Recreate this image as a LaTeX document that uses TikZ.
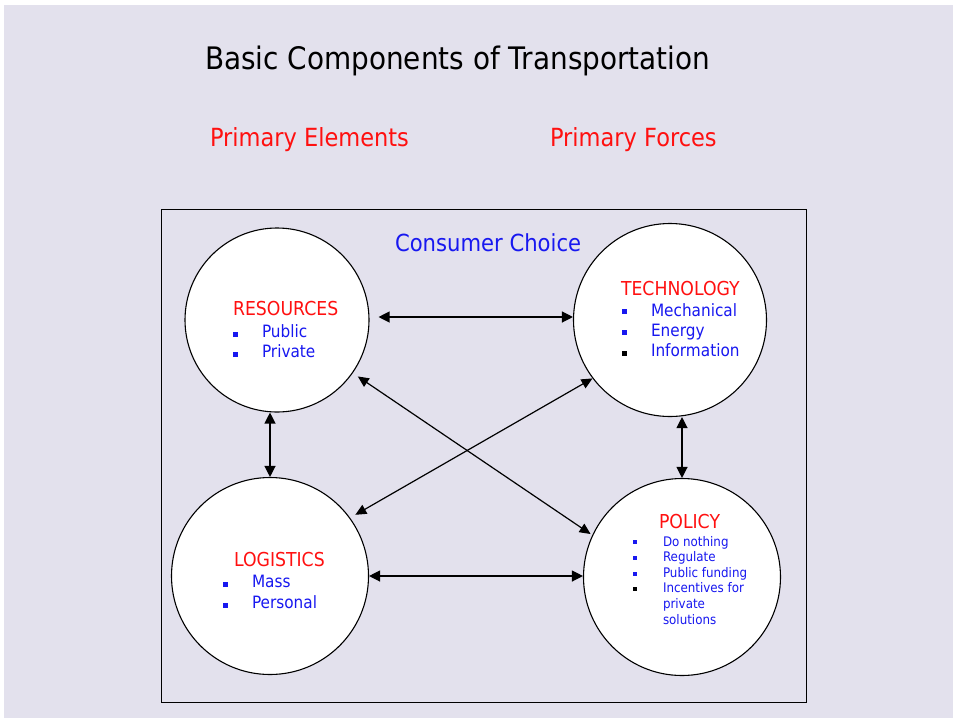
\documentclass[tikz,border=0pt]{standalone}
\usepackage{fontspec}
\setmainfont{DejaVu Sans}[FakeStretch=0.9]
\usetikzlibrary{arrows.meta}

\definecolor{slide}{RGB}{227,225,237}
\definecolor{headred}{RGB}{255,16,16}
\definecolor{itemblue}{RGB}{24,24,240}

\newcommand{\fs}[1]{\fontsize{#1}{#1}\selectfont}

\tikzset{
  ring/.style={circle, draw=black, line width=1.1pt, fill=white, inner sep=0pt},
  txt/.style={anchor=base west, inner sep=0pt, outer sep=0pt},
  heading/.style={txt, text=headred},
  item/.style={txt, text=itemblue},
  bul/.style={rectangle, inner sep=0pt, minimum size=5pt, fill=itemblue},
  bulk/.style={bul, fill=black},
  sbul/.style={bul, minimum size=4pt},
  sbulk/.style={sbul, fill=black},
  link/.style={line width=1.2pt, {Triangle[length=11pt,width=11pt]}-{Triangle[length=11pt,width=11pt]}},
  dlink/.style={line width=1.2pt, {Triangle[length=11pt,width=10pt]}-{Triangle[length=11pt,width=10pt]}}
}

\begin{document}
\begin{tikzpicture}[x=1pt, y=-1pt]
  % page and slide background
  \useasboundingbox (0,0) rectangle (953,718);
  \fill[white] (0,0) rectangle (953,718);
  \fill[slide] (4,5) rectangle (953,718);

  % titles
  \node[txt, text=black] (title) at (205,69.5) {\fs{31}Basic Components of Transportation};
  \node[heading] (elements) at (210,146.5) {\fs{25}Primary Elements};
  \node[heading] (forces) at (550,146.5) {\fs{25}Primary Forces};

  % frame
  \draw[line width=1pt] (161,209) rectangle (806,702);
  \node[txt, text=itemblue] (choice) at (395,251.5) {\fs{23.5}Consumer Choice};

  % the four circles
  \node[ring, minimum size=184pt] (res) at (277,320) {};
  \node[ring, minimum size=193pt] (tech) at (670,320) {};
  \node[ring, minimum size=197pt] (log) at (270,576) {};
  \node[ring, minimum size=197pt] (pol) at (682,577) {};

  % connectors
  \draw[link, shorten <=9pt] ([yshift=3pt]res.east) -- ([yshift=3pt]tech.west);
  \draw[link] (log.north |- res.south) -- (log.north);
  \draw[link] (pol.north |- tech.south) -- (pol.north);
  \draw[link] (log.east) -- (log.east -| pol.west);
  \draw[dlink, shorten <=6pt, shorten >=2pt] (res.-35) -- (pol.155);
  \draw[dlink, shorten >=6pt] (tech.217) -- (log.36);

  % RESOURCES
  \node[heading] (resT) at (233,315.5) {\fs{19.2}RESOURCES};
  \node[bul] (resB1) at (235.5,334) {};
  \node[item] (resI1) at (262,337) {\fs{17}Public};
  \node[bul] (resB2) at (235.5,354.5) {};
  \node[item] (resI2) at (262,357.5) {\fs{17}Private};

  % TECHNOLOGY
  \node[heading] (techT) at (621,295) {\fs{19.2}TECHNOLOGY};
  \node[bul] (techB1) at (624.5,311.5) {};
  \node[item] (techI1) at (651,316) {\fs{17}Mechanical};
  \node[bul] (techB2) at (624.5,332) {};
  \node[item] (techI2) at (651,336) {\fs{17}Energy};
  \node[bulk] (techB3) at (624.5,353) {};
  \node[item] (techI3) at (651,356) {\fs{17}Information};

  % LOGISTICS
  \node[heading] (logT) at (234,566) {\fs{19.2}LOGISTICS};
  \node[bul] (logB1) at (225.5,584) {};
  \node[item] (logI1) at (252,587) {\fs{17}Mass};
  \node[bul] (logB2) at (225.5,605) {};
  \node[item] (logI2) at (252,608) {\fs{17}Personal};

  % POLICY
  \node[heading] (polT) at (659,528) {\fs{19.2}POLICY};
  \node[sbul] (polB1) at (635,542.3) {};
  \node[item] (polI1) at (663,546.5) {\fs{13.2}Do nothing};
  \node[sbul] (polB2) at (635,558.3) {};
  \node[item] (polI2) at (663,561.5) {\fs{13.2}Regulate};
  \node[sbul] (polB3) at (635,573.7) {};
  \node[item] (polI3) at (663,577) {\fs{13.2}Public funding};
  \node[sbulk] (polB4) at (635,589.3) {};
  \node[item] (polI4) at (663,592.5) {\fs{13.2}Incentives for};
  \node[item] (polI5) at (663,608.5) {\fs{13.2}private};
  \node[item] (polI6) at (663,624) {\fs{13.2}solutions};
\end{tikzpicture}
\end{document}
